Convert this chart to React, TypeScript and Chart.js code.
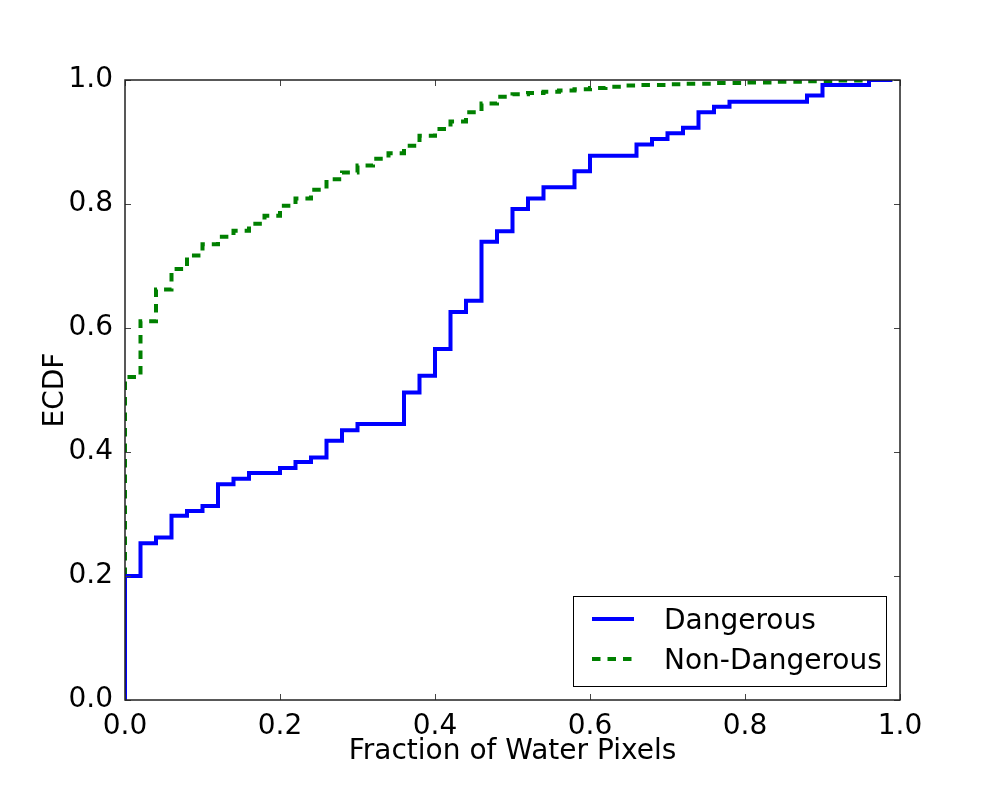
import React, { useEffect, useRef } from 'react';
import { Chart, registerables, Plugin } from 'chart.js';

Chart.register(...registerables);

// step starts (x) and ECDF values (y)
const dangerousX = [0, 0, 0.02, 0.04, 0.06, 0.08, 0.1, 0.12, 0.14, 0.16, 0.2, 0.22, 0.24, 0.26, 0.28, 0.3, 0.36, 0.38, 0.4, 0.42, 0.44, 0.46, 0.48, 0.5, 0.52, 0.54, 0.58, 0.6, 0.66, 0.68, 0.7, 0.72, 0.74, 0.76, 0.78, 0.88, 0.9, 0.96, 0.99];
const dangerousY = [0, 0.2, 0.253, 0.262, 0.297, 0.305, 0.313, 0.348, 0.357, 0.366, 0.374, 0.384, 0.391, 0.418, 0.435, 0.445, 0.496, 0.523, 0.566, 0.626, 0.644, 0.739, 0.756, 0.792, 0.809, 0.827, 0.853, 0.878, 0.896, 0.905, 0.914, 0.923, 0.948, 0.957, 0.965, 0.975, 0.992, 1.0, 1.0];

const nonDangerousX = [0, 0, 0.02, 0.04, 0.06, 0.08, 0.1, 0.12, 0.14, 0.16, 0.18, 0.2, 0.22, 0.24, 0.26, 0.28, 0.3, 0.32, 0.34, 0.36, 0.38, 0.4, 0.42, 0.44, 0.46, 0.48, 0.5, 0.52, 0.54, 0.56, 0.58, 0.6, 0.62, 0.64, 0.66, 0.7, 0.72, 0.76, 0.8, 0.84, 0.88, 0.92, 0.96, 0.99];
const nonDangerousY = [0, 0.521, 0.611, 0.662, 0.695, 0.717, 0.735, 0.747, 0.757, 0.768, 0.781, 0.797, 0.809, 0.823, 0.84, 0.851, 0.862, 0.873, 0.882, 0.894, 0.91, 0.921, 0.933, 0.948, 0.962, 0.973, 0.977, 0.979, 0.981, 0.983, 0.985, 0.987, 0.989, 0.991, 0.992, 0.993, 0.994, 0.995, 0.996, 0.997, 0.998, 0.999, 1.0, 1.0];

const xTicks = [0, 0.2, 0.4, 0.6, 0.8, 1.0];
const yTicks = [0, 0.2, 0.4, 0.6, 0.8, 1.0];

const FONT = '"DejaVu Sans", sans-serif';
const SIZE = 28;

const framePlugin: Plugin<'line'> = {
  id: 'frame',
  afterDatasetsDraw(chart) {
    const { ctx, chartArea: a, scales } = chart;
    ctx.save();
    ctx.strokeStyle = '#444';
    ctx.lineWidth = 1;
    const len = 6;
    ctx.beginPath();
    xTicks.forEach((t) => {
      const px = Math.round(scales.x.getPixelForValue(t)) + 0.5;
      ctx.moveTo(px, a.bottom);
      ctx.lineTo(px, a.bottom - len);
      ctx.moveTo(px, a.top);
      ctx.lineTo(px, a.top + len);
    });
    yTicks.forEach((t) => {
      const py = Math.round(scales.y.getPixelForValue(t)) + 0.5;
      ctx.moveTo(a.left, py);
      ctx.lineTo(a.left + len, py);
      ctx.moveTo(a.right, py);
      ctx.lineTo(a.right - len, py);
    });
    ctx.stroke();
    ctx.strokeStyle = '#222';
    ctx.lineWidth = 1.5;
    ctx.strokeRect(a.left, a.top, a.right - a.left, a.bottom - a.top);

    // legend box, lower right
    const bx = 573, by = 596, bw = 313, bh = 90;
    ctx.fillStyle = '#fff';
    ctx.fillRect(bx, by, bw, bh);
    ctx.strokeStyle = '#000';
    ctx.lineWidth = 1;
    ctx.strokeRect(bx + 0.5, by + 0.5, bw, bh);
    ctx.font = SIZE + 'px ' + FONT;
    ctx.textBaseline = 'alphabetic';
    ctx.textAlign = 'left';
    chart.data.datasets.forEach((ds: any, i) => {
      const ly = i === 0 ? 619 : 659;
      ctx.beginPath();
      ctx.strokeStyle = ds.borderColor;
      ctx.lineWidth = ds.borderWidth;
      ctx.setLineDash(ds.borderDash || []);
      ctx.moveTo(592, ly);
      ctx.lineTo(634, ly);
      ctx.stroke();
      ctx.setLineDash([]);
      ctx.fillStyle = '#000';
      ctx.fillText(ds.label, 664, ly + 9.5);
    });
    ctx.restore();
  },
};

export default function App() {
  const canvasRef = useRef<HTMLCanvasElement>(null);

  useEffect(() => {
    if (!canvasRef.current) return;
    const chart = new Chart(canvasRef.current, {
      type: 'line',
      data: {
        datasets: [
          {
            label: 'Dangerous',
            data: dangerousX.map((x, i) => ({ x, y: dangerousY[i] })),
            borderColor: '#0000ff',
            borderWidth: 4,
            stepped: true,
            pointRadius: 0,
            fill: false,
            clip: 0,
          },
          {
            label: 'Non-Dangerous',
            data: nonDangerousX.map((x, i) => ({ x, y: nonDangerousY[i] })),
            borderColor: '#008000',
            borderWidth: 4,
            borderDash: [8.5, 7],
            stepped: true,
            pointRadius: 0,
            fill: false,
            clip: 0,
          },
        ],
      },
      options: {
        responsive: false,
        animation: false,
        devicePixelRatio: 1,
        layout: { padding: { left: 39, right: 100, top: 80, bottom: 31 } },
        plugins: { legend: { display: false }, tooltip: { enabled: false } },
        scales: {
          x: {
            type: 'linear',
            min: 0,
            max: 1,
            afterFit: (s) => { s.height = 69; },
            afterBuildTicks: (s) => { s.ticks = xTicks.map((v) => ({ value: v })); },
            ticks: {
              callback: (v) => Number(v).toFixed(1),
              font: { family: FONT, size: SIZE },
              color: '#000',
              padding: 2,
              maxRotation: 0,
            },
            grid: { display: false },
            border: { display: false },
            title: {
              display: true,
              text: 'Fraction of Water Pixels',
              font: { family: FONT, size: SIZE },
              color: '#000',
              padding: 0,
            },
          },
          y: {
            type: 'linear',
            min: 0,
            max: 1,
            afterFit: (s) => { s.width = 86; },
            afterBuildTicks: (s) => { s.ticks = yTicks.map((v) => ({ value: v })); },
            ticks: {
              callback: (v) => Number(v).toFixed(1),
              font: { family: FONT, size: SIZE },
              color: '#000',
              padding: 4,
            },
            grid: { display: false },
            border: { display: false },
            title: {
              display: true,
              text: 'ECDF',
              font: { family: FONT, size: SIZE },
              color: '#000',
              padding: 0,
            },
          },
        },
      },
      plugins: [framePlugin],
    });
    return () => chart.destroy();
  }, []);

  return (
    <div style={{ position: 'absolute', left: 0, top: 0, width: 1000, height: 800, background: '#fff' }}>
      <canvas ref={canvasRef} width={1000} height={800} />
    </div>
  );
}
